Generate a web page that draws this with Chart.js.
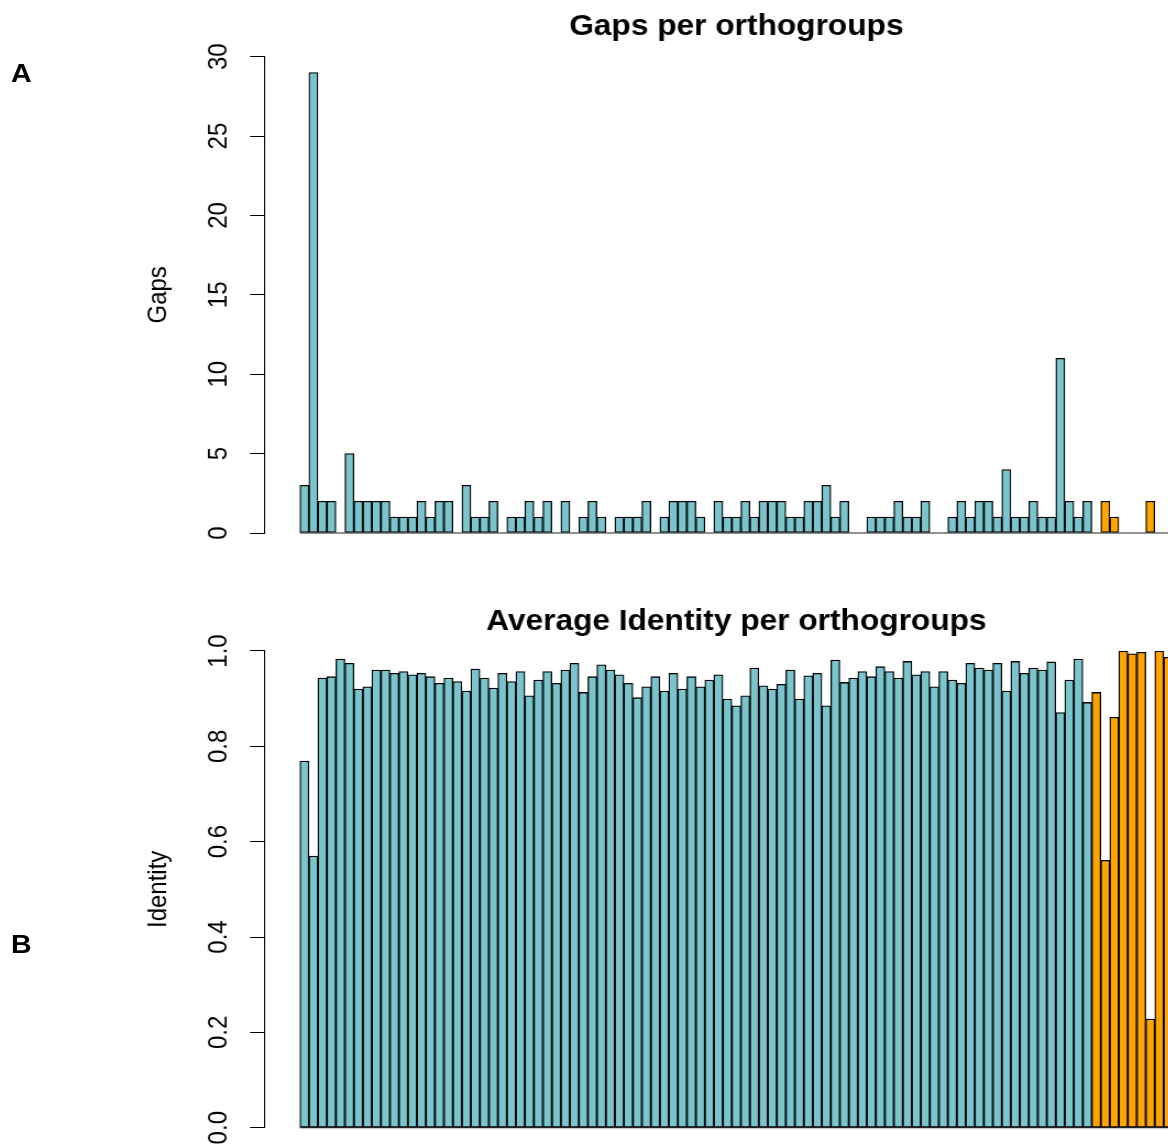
<!DOCTYPE html>
<html>
<head>
<meta charset="utf-8">
<script src="https://cdn.jsdelivr.net/npm/chart.js@4.4.1/dist/chart.umd.min.js"></script>
<style>
  html, body { margin: 0; padding: 0; overflow: hidden; background: #fff; }
  /* the reference is an R plot stretched ~10% horizontally, so draw narrow and stretch */
  #wrap { position: absolute; left: 0; top: 0; width: 1120px; height: 1200px;
          transform: scaleX(1.1); transform-origin: 0 0;
          font-family: 'Liberation Sans', Arial, Helvetica, sans-serif; }
  .panel { position: absolute; left: 10px; font-weight: bold; font-size: 26px; line-height: 26px; color: #000; }
  canvas { position: absolute; left: 0; }
</style>
</head>
<body>
<div id="wrap">
  <div class="panel" style="top:60px">A</div>
  <div class="panel" style="top:931px">B</div>
  <canvas id="gapsChart" width="1120" height="573" style="top:0;width:1120px;height:573px"></canvas>
  <canvas id="identityChart" width="1120" height="627" style="top:573px;width:1120px;height:627px"></canvas>
</div>
<script>
// orthogroups 1-88 (teal group)
const gapsTeal = [3, 29, 2, 2, 0, 5, 2, 2, 2, 2,
                  1, 1, 1, 2, 1, 2, 2, 0, 3, 1,
                  1, 2, 0, 1, 1, 2, 1, 2, 0, 2,
                  0, 1, 2, 1, 0, 1, 1, 1, 2, 0,
                  1, 2, 2, 2, 1, 0, 2, 1, 1, 2,
                  1, 2, 2, 2, 1, 1, 2, 2, 3, 1,
                  2, 0, 0, 1, 1, 1, 2, 1, 1, 2,
                  0, 0, 1, 2, 1, 2, 2, 1, 4, 1,
                  1, 2, 1, 1, 11, 2, 1, 2];
// orthogroups 89-97 (orange group, last one cut at the right edge)
const gapsOrange = [0, 2, 1, 0, 0, 0, 2, 0, 0];

const identityTeal = [0.769, 0.570, 0.943, 0.946, 0.983, 0.974, 0.920, 0.925, 0.960, 0.960,
                      0.953, 0.957, 0.950, 0.953, 0.946, 0.932, 0.943, 0.936, 0.916, 0.962,
                      0.943, 0.922, 0.953, 0.936, 0.957, 0.906, 0.939, 0.957, 0.932, 0.960,
                      0.974, 0.913, 0.946, 0.971, 0.960, 0.950, 0.932, 0.902, 0.925, 0.946,
                      0.916, 0.953, 0.920, 0.946, 0.925, 0.939, 0.950, 0.899, 0.885, 0.906,
                      0.964, 0.927, 0.920, 0.930, 0.960, 0.899, 0.948, 0.953, 0.885, 0.981,
                      0.934, 0.943, 0.957, 0.946, 0.967, 0.957, 0.943, 0.978, 0.950, 0.957,
                      0.925, 0.957, 0.939, 0.932, 0.974, 0.964, 0.960, 0.974, 0.916, 0.978,
                      0.953, 0.964, 0.960, 0.977, 0.871, 0.939, 0.983, 0.892];
const identityOrange = [0.913, 0.561, 0.861, 1.0, 0.994, 0.997, 0.228, 1.0, 0.987];

const gapTicks = [0, 5, 10, 15, 20, 25, 30];
const identityTicks = ['0.0', '0.2', '0.4', '0.6', '0.8', '1.0'];

const TEAL = '#7AC5CD';   // cadetblue3
const ORANGE = '#FFA500';
const FONT = "'Liberation Sans', Arial, Helvetica, sans-serif";
const nBars = gapsTeal.length + gapsOrange.length;

// bar slots like R's barplot: bar i sits on [i, i+1]
const toPoints = (values, first) => values.map((v, i) => ({ x: first + i + 0.5, y: v }));

const barStyle = {
    grouped: false,
    barPercentage: 1,
    categoryPercentage: 1,
    borderColor: '#000',
    borderWidth: 1.3,
    borderSkipped: false
};

// R draws zero-height bars as a line, so put a base line under all bars
const baseLine = {
    id: 'baseLine',
    afterDatasetsDraw(chart) {
        const { ctx, scales: { x, y } } = chart;
        const y0 = y.getPixelForValue(0);
        ctx.save();
        ctx.strokeStyle = '#222';
        ctx.lineWidth = 1.2;
        ctx.beginPath();
        ctx.moveTo(x.getPixelForValue(0), y0);
        ctx.lineTo(x.getPixelForValue(nBars), y0);
        ctx.stroke();
        ctx.restore();
    }
};

function makeChart(id, cfg) {
    const ctx = document.getElementById(id).getContext('2d');
    return new Chart(ctx, {
        type: 'bar',
        data: {
            datasets: [
                { ...barStyle, label: 'teal', data: toPoints(cfg.teal, 0), backgroundColor: TEAL },
                { ...barStyle, label: 'orange', data: toPoints(cfg.orange, cfg.teal.length), backgroundColor: ORANGE }
            ]
        },
        plugins: [baseLine],
        options: {
            responsive: false,
            animation: false,
            devicePixelRatio: 1,
            layout: { padding: { left: 0, right: 22.1, top: 0, bottom: cfg.padBottom } },
            plugins: {
                legend: { display: false },
                tooltip: { enabled: false },
                title: {
                    display: true,
                    text: cfg.title,
                    fullSize: false,
                    color: '#000',
                    font: { family: FONT, size: 28.8, weight: 'bold', lineHeight: 1.2 },
                    padding: cfg.titlePad
                }
            },
            scales: {
                x: {
                    type: 'linear',
                    display: false,
                    offset: false,
                    min: -0.04 * nBars,
                    max: 1.04 * nBars
                },
                y: {
                    min: 0,
                    max: cfg.max,
                    afterFit: (s) => { s.width = 240.9; },
                    afterBuildTicks: (s) => { s.ticks = cfg.ticks.map(v => ({ value: Number(v) })); },
                    border: { display: true, color: '#000', width: 1 },
                    grid: { display: true, drawOnChartArea: false, drawTicks: true, tickLength: 13.6, color: '#000', lineWidth: 1 },
                    ticks: {
                        autoSkip: false,
                        minRotation: 90,
                        maxRotation: 90,
                        crossAlign: 'center',
                        padding: cfg.tickPad,
                        color: '#000',
                        font: { family: FONT, size: 24 },
                        callback: (v, i) => String(cfg.ticks[i])
                    },
                    title: {
                        display: true,
                        text: cfg.axisTitle,
                        color: '#000',
                        font: { family: FONT, size: 24, lineHeight: 1.2 },
                        padding: { top: 130.3, bottom: 0 }
                    }
                }
            }
        }
    });
}

makeChart('gapsChart', {
    teal: gapsTeal,
    orange: gapsOrange,
    title: 'Gaps per orthogroups',
    axisTitle: 'Gaps',
    max: 30,
    ticks: gapTicks,
    tickPad: 14.2,
    padBottom: 40,
    titlePad: { top: 9.4, bottom: 12.7 }
});

makeChart('identityChart', {
    teal: identityTeal,
    orange: identityOrange,
    title: 'Average Identity per orthogroups',
    axisTitle: 'Identity',
    max: 1,
    ticks: identityTicks,
    tickPad: 10.9,
    padBottom: 72.3,
    titlePad: { top: 32.2, bottom: 11.2 }
});
</script>
</body>
</html>
